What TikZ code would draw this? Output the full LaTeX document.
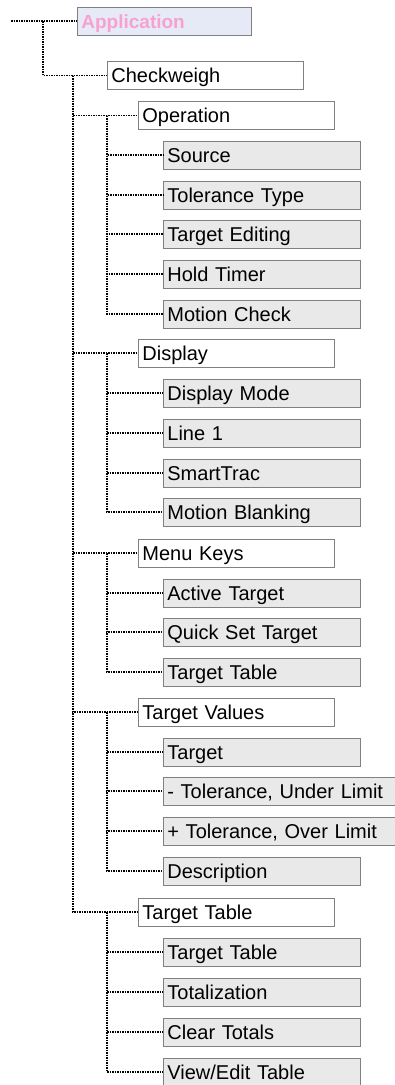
\documentclass[tikz,border=0pt]{standalone}
\usepackage{fontspec}
\setmainfont{Liberation Sans}
\definecolor{rootfill}{HTML}{E6EAF7}
\definecolor{rootpink}{HTML}{F7A1D0}
\definecolor{leafgray}{HTML}{E9E9E9}
\definecolor{boxline}{HTML}{808080}
\begin{document}
\begin{tikzpicture}[x=1pt,y=-1pt,
  box/.style={draw=boxline, line width=0.8pt, anchor=west, minimum height=28pt,
    inner xsep=4pt, inner ysep=0pt, text height=14pt, text depth=0pt, align=left,
    font=\fontsize{20}{24}\selectfont},
  lvlone/.style={box, fill=white, text width=188pt},
  leaf/.style={box, fill=leafgray, text width=189pt},
  wideleaf/.style={box, fill=leafgray, text width=230pt},
  root/.style={box, fill=rootfill, text width=166pt, text=rootpink,
    font=\fontsize{19}{23}\selectfont\bfseries},
  conn/.style={line width=1.2pt, dash pattern=on 1.5pt off 1pt}]
\useasboundingbox (0,0) rectangle (394,1085);

\node[root] (app) at (77,21) {Application};
\node[lvlone] (cw) at (107,75.5) {Checkweigh};

\node[lvlone] (op) at (138,115.5) {Operation};
\node[leaf] (src) at (163,155) {Source};
\node[leaf] (tt) at (163,195) {Tolerance Type};
\node[leaf] (te) at (163,234) {Target Editing};
\node[leaf] (ht) at (163,274) {Hold Timer};
\node[leaf] (mc) at (163,314) {Motion Check};

\node[lvlone] (disp) at (138,353) {Display};
\node[leaf] (dm) at (163,393) {Display Mode};
\node[leaf] (lone) at (163,433) {Line 1};
\node[leaf] (st) at (163,473) {SmartTrac};
\node[leaf] (mb) at (163,512) {Motion Blanking};

\node[lvlone] (mk) at (138,553) {Menu Keys};
\node[leaf] (at) at (163,593) {Active Target};
\node[leaf] (qs) at (163,632) {Quick Set Target};
\node[leaf] (ttab) at (163,672) {Target Table};

\node[lvlone] (tv) at (138,712) {Target Values};
\node[leaf] (tg) at (163,752) {Target};
\node[wideleaf] (tu) at (163,791) {- Tolerance, Under Limit};
\node[wideleaf] (to) at (163,831) {+ Tolerance, Over Limit};
\node[leaf] (de) at (163,871) {Description};

\node[lvlone] (tab) at (138,912) {Target Table};
\node[leaf] (tabb) at (163,952) {Target Table};
\node[leaf] (tot) at (163,992) {Totalization};
\node[leaf] (ct) at (163,1032) {Clear Totals};
\node[leaf] (ve) at (163,1072) {View/Edit Table};

\coordinate (start) at (11,21);
\coordinate (jzero) at (43,21);
\coordinate (jone) at (73,75.5);
\coordinate (jop) at (107,115.5);
\coordinate (jdisp) at (107,353);
\coordinate (jmk) at (107,553);
\coordinate (jtv) at (107,712);
\coordinate (jtab) at (107,912);

\draw[conn] (start) -- (app.west);
\draw[conn] (jzero) |- (cw.west);
\foreach \n in {op,disp,mk,tv,tab} \draw[conn] (jone) |- (\n.west);
\foreach \n in {src,tt,te,ht,mc} \draw[conn] (jop) |- (\n.west);
\foreach \n in {dm,lone,st,mb} \draw[conn] (jdisp) |- (\n.west);
\foreach \n in {at,qs,ttab} \draw[conn] (jmk) |- (\n.west);
\foreach \n in {tg,tu,to,de} \draw[conn] (jtv) |- (\n.west);
\foreach \n in {tabb,tot,ct,ve} \draw[conn] (jtab) |- (\n.west);
\end{tikzpicture}
\end{document}
